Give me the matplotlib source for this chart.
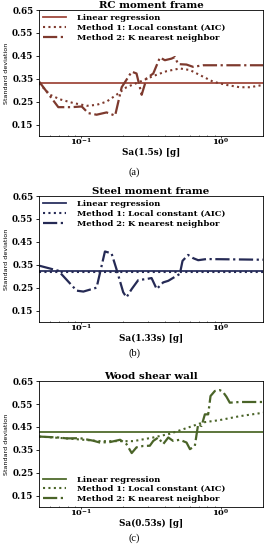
import matplotlib

matplotlib.use("Agg")
import matplotlib.pyplot as plt

# (a) RC moment frame
rc_lin = 0.33
rc_m1_x = [0.05, 0.060, 0.0707, 0.088, 0.110, 0.129, 0.152, 0.179, 0.211, 0.263,
           0.328, 0.408, 0.508, 0.600, 0.707, 0.880, 1.096, 1.363, 1.61, 2.0]
rc_m1_y = [0.33, 0.28, 0.26, 0.244, 0.232, 0.236, 0.25, 0.28, 0.313, 0.337,
           0.362, 0.383, 0.395, 0.388, 0.366, 0.337, 0.323, 0.313, 0.313, 0.323]
rc_m2_x = [0.0502, 0.0687, 0.0855, 0.101, 0.1125, 0.129, 0.152, 0.175, 0.195, 0.230,
           0.249, 0.271, 0.294, 0.328, 0.366, 0.397, 0.443, 0.468, 0.494, 0.567,
           0.632, 0.746, 2.0]
rc_m2_y = [0.337, 0.226, 0.226, 0.229, 0.20, 0.193, 0.203, 0.189, 0.313, 0.381,
           0.373, 0.280, 0.352, 0.373, 0.443, 0.431, 0.438, 0.445, 0.414, 0.412,
           0.402, 0.409, 0.409]

# (b) Steel moment frame
st_lin = 0.322
st_m1_x = [0.05, 2.0]
st_m1_y = [0.317, 0.317]
st_m2_x = [0.0502, 0.0687, 0.0929, 0.1038, 0.129, 0.148, 0.165, 0.179, 0.200, 0.211,
           0.230, 0.256, 0.294, 0.319, 0.347, 0.386, 0.420, 0.482, 0.508, 0.531,
           0.582, 0.632, 0.687, 0.789, 2.0]
st_m2_y = [0.346, 0.324, 0.237, 0.233, 0.25, 0.408, 0.40, 0.331, 0.23, 0.208,
           0.244, 0.283, 0.288, 0.292, 0.244, 0.273, 0.28, 0.302, 0.31, 0.367,
           0.393, 0.379, 0.37, 0.375, 0.372]

# (c) Wood shear wall
wd_lin = 0.428
wd_m1_x = [0.05, 0.079, 0.136, 0.236, 0.328, 0.43, 0.567, 0.746, 0.98, 1.36, 2.0]
wd_m1_y = [0.408, 0.40, 0.388, 0.388, 0.404, 0.42, 0.445, 0.47, 0.48, 0.497, 0.512]
wd_m2_x = [0.0502, 0.0687, 0.0789, 0.0982, 0.122, 0.136, 0.161, 0.190, 0.211, 0.230,
           0.249, 0.278, 0.310, 0.328, 0.356, 0.386, 0.420, 0.455, 0.508, 0.567,
           0.600, 0.650, 0.687, 0.726, 0.767, 0.810, 0.842, 0.904, 0.981, 1.036,
           1.094, 1.156, 1.363, 2.0]
wd_m2_y = [0.408, 0.404, 0.40, 0.401, 0.39, 0.382, 0.384, 0.394, 0.375, 0.336,
           0.361, 0.367, 0.368, 0.389, 0.404, 0.375, 0.404, 0.389, 0.394, 0.382,
           0.353, 0.367, 0.462, 0.454, 0.505, 0.505, 0.585, 0.607, 0.611, 0.602,
           0.582, 0.556, 0.559, 0.559]

panels = [
    ("RC moment frame", "Sa(1.5s) [g]", "(a)", rc_lin, rc_m1_x, rc_m1_y, rc_m2_x, rc_m2_y,
     "#a04a3e", "#7e3a2e", "upper left"),
    ("Steel moment frame", "Sa(1.33s) [g]", "(b)", st_lin, st_m1_x, st_m1_y, st_m2_x, st_m2_y,
     "#2b3160", "#252a55", "upper left"),
    ("Wood shear wall", "Sa(0.53s) [g]", "(c)", wd_lin, wd_m1_x, wd_m1_y, wd_m2_x, wd_m2_y,
     "#4f6b2c", "#4a6428", "lower left"),
]

SERIF = "DejaVu Serif"
plt.rcParams["mathtext.fontset"] = "dejavuserif"
fig = plt.figure(figsize=(2.69, 5.5), dpi=100)
bottoms = [0.7527, 0.4145, 0.078]
caption_y = [0.687, 0.358, 0.022]

for (title, xlabel, cap, lin, m1x, m1y, m2x, m2y, c_lin, c_m, loc), b, cy in zip(
        panels, bottoms, caption_y):
    ax = fig.add_axes([0.145, b, 0.833, 0.229])
    ax.set_xscale("log")
    ax.axhline(lin, color=c_lin, lw=1.3, label="Linear regression")
    ax.plot(m1x, m1y, ls=(0, (1, 1.6)), color=c_m, lw=1.5,
            label="Method 1: Local constant (AIC)")
    ax.plot(m2x, m2y, ls="-.", color=c_m, lw=1.6,
            label="Method 2: K nearest neighbor")
    ax.set_xlim(0.05, 2.0)
    ax.set_ylim(0.10, 0.65)
    ax.set_yticks([0.15, 0.25, 0.35, 0.45, 0.55, 0.65])
    ax.set_yticklabels(["0.15", "0.25", "0.35", "0.45", "0.55", "0.65"])
    ax.tick_params(axis="y", which="major", labelsize=6.3, length=2.5, width=0.6, pad=1.5)
    ax.tick_params(axis="x", which="major", labelsize=6.0, length=1.2, width=0.5, pad=-0.5)
    ax.tick_params(axis="x", which="minor", length=1.0, width=0.4, direction="in")
    for lbl in ax.get_xticklabels() + ax.get_yticklabels():
        lbl.set_fontfamily(SERIF)
        lbl.set_fontweight("bold")
    for sp in ax.spines.values():
        sp.set_linewidth(0.6)
    ax.set_title(title, fontsize=7.4, family=SERIF, fontweight="bold", pad=0.3)
    ax.set_xlabel(xlabel, fontsize=6.3, family=SERIF, fontweight="bold", labelpad=0)
    ax.set_ylabel("Standard deviation", fontsize=4.6, labelpad=2.5)
    ax.legend(loc=loc, frameon=False,
              prop={"family": SERIF, "size": 6.0, "weight": "bold"},
              handlelength=2.7, handletextpad=1.4, labelspacing=0.2,
              borderaxespad=0.2, borderpad=0.3)
    fig.text(0.5, cy, cap, ha="center", va="center", fontsize=7.5, family="Liberation Serif")

fig.savefig("out.png", dpi=100)
